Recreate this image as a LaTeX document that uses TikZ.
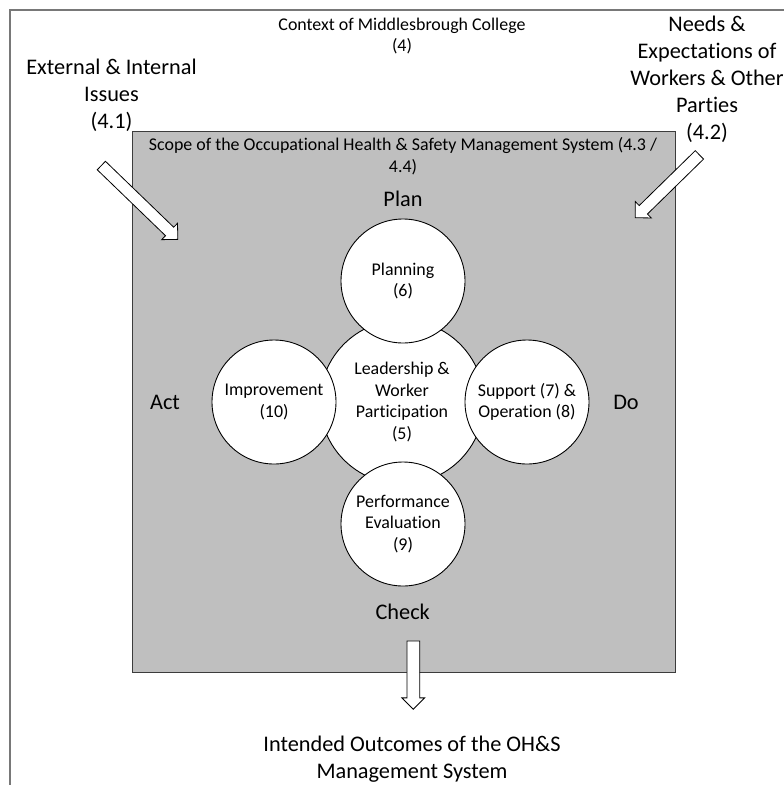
\documentclass[tikz,border=0pt]{standalone}
\usepackage{fontspec}
\setmainfont{Carlito}[Ligatures=NoCommon]
\usetikzlibrary{shapes.arrows}
\definecolor{scopegray}{RGB}{191,191,191}
\definecolor{framegray}{RGB}{120,120,120}
\definecolor{edgegray}{RGB}{60,60,60}
\tikzset{
  smalltext/.style={font=\fontsize{17.9}{21.5}\selectfont, align=center, inner sep=0pt},
  bigtext/.style={font=\fontsize{22.3}{27}\selectfont, align=center, inner sep=0pt},
  bubble/.style={circle, draw=black, line width=0.9pt, fill=white, minimum size=124pt, inner sep=0pt, smalltext},
  hollow/.style={single arrow, draw=black, fill=white, line width=0.8pt, single arrow head extend=5.5pt, inner sep=0pt},
}
\newcommand{\shaftw}[1]{\rule{0pt}{#1}}
\begin{document}
\begin{tikzpicture}[x=1pt,y=-1pt]
\useasboundingbox (0,0) rectangle (784,785);
\clip (0,0) rectangle (784,785);
% outer frame (extends beyond the page on right and bottom)
\draw[framegray, line width=1.5pt] (10,10) rectangle (830,830);
% scope box
\node[draw=edgegray, line width=1pt, fill=scopegray, minimum width=543.5pt, minimum height=541.3pt, anchor=north west, inner sep=0pt] (scope) at (131.5,131) {};
% texts
\node[smalltext] (ctx) at (402,36) {Context of Middlesbrough College\\(4)};
\node[bigtext] (ext) at (111.5,95) {External \& Internal\\Issues\\(4.1)};
\node[bigtext] (needs) at (707,79.5) {Needs \&\\Expectations of\\Workers \& Other\\Parties\\(4.2)};
\node[smalltext] (scopetxt) at (403,156) {Scope of the Occupational Health \& Safety Management System (4.3 /\\4.4)};
\node[bigtext] (plan) at (403,199) {Plan};
\node[bigtext] (act) at (165,402) {Act};
\node[bigtext] (do) at (626,402) {Do};
\node[bigtext] (check) at (402.7,612) {Check};
% circles
\node[bubble, minimum size=164pt] (lead) at (402,402) {Leadership \&\\Worker\\Participation\\(5)};
\node[bubble] (plann) at (403,281) {Planning\\(6)};
\node[bubble] (impr) at (274,402) {Improvement\\(10)};
\node[bubble] (supp) at (527,402) {Support (7) \&\\Operation (8)};
\node[bubble] (perf) at (403,524) {Performance\\Evaluation\\(9)};
% arrows
\node[hollow, minimum height=106.3pt, rotate=-44] (arrL) at (137.45,200.4) {\shaftw{11pt}};
\node[hollow, minimum height=89.9pt, rotate=224.4] (arrR) at (669.4,184.25) {\shaftw{11pt}};
\node[hollow, minimum height=68.3pt, single arrow head extend=5pt, rotate=-90] (arrB) at (413.3,671.9) {\shaftw{12pt}};
% outcome
\node[bigtext] (out) at (412,759) {Intended Outcomes of the OH\&S\\Management System};
\end{tikzpicture}
\end{document}
